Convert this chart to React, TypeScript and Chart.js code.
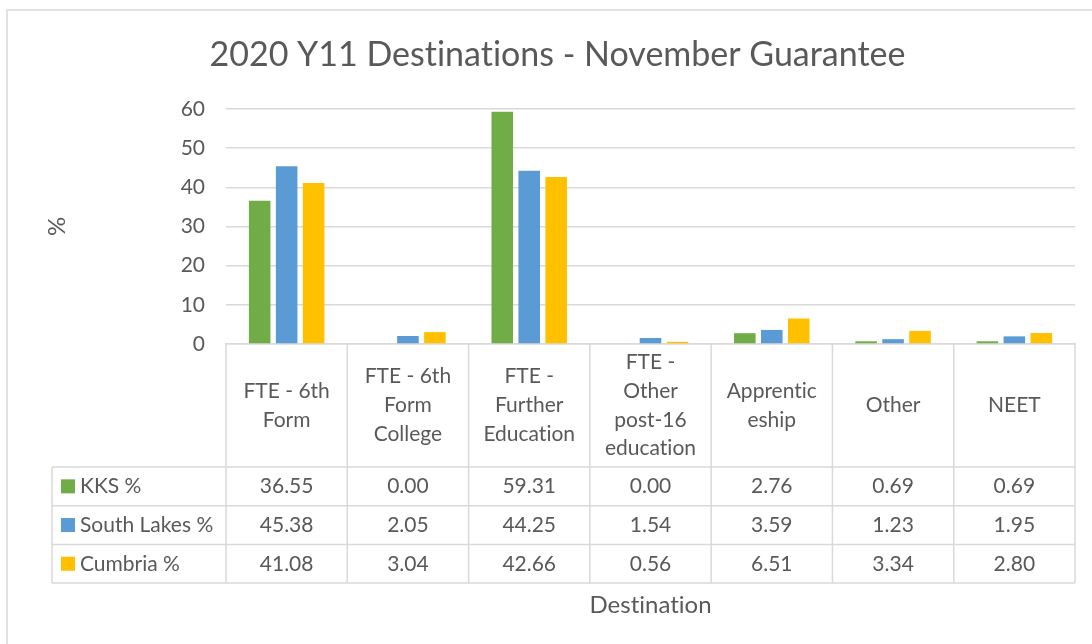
import React, { useEffect, useRef } from "react";
import { Chart, registerables } from "chart.js";

Chart.register(...registerables);

const titleText = "2020 Y11 Destinations - November Guarantee";
const xAxisTitle = "Destination";
const yAxisTitle = "%";

const categories = [
  "FTE - 6th Form",
  "FTE - 6th Form College",
  "FTE - Further Education",
  "FTE - Other post-16 education",
  "Apprenticeship",
  "Other",
  "NEET",
];

const categoryLines = [
  ["FTE - 6th", "Form"],
  ["FTE - 6th", "Form", "College"],
  ["FTE -", "Further", "Education"],
  ["FTE -", "Other", "post-16", "education"],
  ["Apprentic", "eship"],
  ["Other"],
  ["NEET"],
];

const seriesNames = ["KKS %", "South Lakes %", "Cumbria %"];
const kks = [36.55, 0.0, 59.31, 0.0, 2.76, 0.69, 0.69];
const southLakes = [45.38, 2.05, 44.25, 1.54, 3.59, 1.23, 1.95];
const cumbria = [41.08, 3.04, 42.66, 0.56, 6.51, 3.34, 2.8];
const seriesColors = ["#70AD47", "#5B9BD5", "#FFC000"];

const yTicks = [0, 10, 20, 30, 40, 50, 60];

const FONT = "Lato, 'Open Sans', sans-serif";
const TEXT = "#595959";
const LINE = "#D9D9D9";
const BODY_SIZE = 21;

const tablePlugin = {
  id: "dataTable",
  beforeDraw(chart: any) {
    const ctx = chart.ctx;
    try {
      (ctx as any).textRendering = "optimizeSpeed";
    } catch (e) {}
    ctx.save();
    ctx.strokeStyle = LINE;
    ctx.lineWidth = 1.5;
    ctx.strokeRect(7, 10, 3000, 3000);
    ctx.restore();
  },
  afterDraw(chart: any) {
    const ctx = chart.ctx;
    const xs = chart.scales.x;
    const area = chart.chartArea;
    const n = categories.length;
    const cw = (area.right - area.left) / n;
    const top = area.bottom;
    const headerBottom = top + 123;
    const rowH = 38.7;
    const tableBottom = headerBottom + rowH * 3;
    const legendLeft = 52;

    ctx.save();
    ctx.strokeStyle = LINE;
    ctx.lineWidth = 1.5;
    ctx.beginPath();
    for (let i = 0; i <= n; i++) {
      const x = area.left + cw * i;
      ctx.moveTo(x, top);
      ctx.lineTo(x, tableBottom);
    }
    for (let r = 0; r <= 3; r++) {
      const y = headerBottom + rowH * r;
      ctx.moveTo(legendLeft, y);
      ctx.lineTo(area.right, y);
    }
    ctx.moveTo(legendLeft, headerBottom);
    ctx.lineTo(legendLeft, tableBottom);
    ctx.stroke();

    ctx.fillStyle = TEXT;
    ctx.font = `${BODY_SIZE}px ${FONT}`;
    ctx.textAlign = "center";
    ctx.textBaseline = "middle";
    const lh = 28.8;
    const hc = (top + headerBottom) / 2;
    categoryLines.forEach((lines, i) => {
      const cx = xs.getPixelForValue(i);
      const y0 = hc - ((lines.length - 1) * lh) / 2;
      lines.forEach((l, k) => ctx.fillText(l, cx, y0 + k * lh));
    });

    const all = [kks, southLakes, cumbria];
    all.forEach((vals, r) => {
      const cy = headerBottom + rowH * r + rowH / 2;
      vals.forEach((v, i) => {
        ctx.textAlign = "center";
        ctx.fillStyle = TEXT;
        ctx.fillText(v.toFixed(2), xs.getPixelForValue(i), cy);
      });
      ctx.fillStyle = seriesColors[r];
      ctx.fillRect(61, cy - 7, 14, 14);
      ctx.fillStyle = TEXT;
      ctx.textAlign = "left";
      ctx.fillText(seriesNames[r], 80, cy);
    });

    ctx.font = `24px ${FONT}`;
    ctx.textAlign = "center";
    ctx.fillText(xAxisTitle, (area.left + area.right) / 2, 605);
    ctx.restore();
  },
};

export default function App() {
  const ref = useRef<HTMLCanvasElement>(null);
  useEffect(() => {
    document.body.style.margin = "0";
    const canvas = ref.current!;
    const chart = new Chart(canvas, {
      type: "bar",
      data: {
        labels: categories,
        datasets: [kks, southLakes, cumbria].map((d, i) => ({
          label: seriesNames[i],
          data: d,
          backgroundColor: seriesColors[i],
          borderWidth: 0,
          categoryPercentage: 0.667,
          barPercentage: 0.8,
        })),
      },
      options: {
        animation: false,
        responsive: false,
        devicePixelRatio: 1,
        layout: { padding: { left: 40, right: 17, top: 0, bottom: 300 } },
        plugins: {
          legend: { display: false },
          tooltip: { enabled: false },
          title: {
            display: true,
            text: titleText,
            color: TEXT,
            font: { family: FONT, size: 34, weight: "normal" },
            padding: { top: 34.6, bottom: 33.6 },
          },
        },
        scales: {
          x: {
            display: true,
            grid: { display: false, drawTicks: false },
            border: { display: true, color: LINE, width: 1.5 },
            ticks: { display: false },
            afterFit(s: any) {
              s.height = 0;
            },
          },
          y: {
            min: 0,
            max: 60,
            afterBuildTicks(s: any) {
              s.ticks = yTicks.map((v) => ({ value: v }));
            },
            grid: { color: LINE, lineWidth: 1.5, drawTicks: false },
            border: { display: false },
            ticks: {
              color: TEXT,
              font: { family: FONT, size: BODY_SIZE },
              padding: 21,
            },
            title: {
              display: true,
              text: yAxisTitle,
              color: TEXT,
              font: { family: FONT, size: 24 },
              padding: { top: 2.6, bottom: 0 },
            },
            afterFit(s: any) {
              s.width = 186;
            },
          },
        },
      },
      plugins: [tablePlugin],
    });
    return () => chart.destroy();
  }, []);
  return (
    <div style={{ width: 1092, height: 644 }}>
      <canvas ref={ref} width={1092} height={644} style={{ display: "block" }} />
    </div>
  );
}
